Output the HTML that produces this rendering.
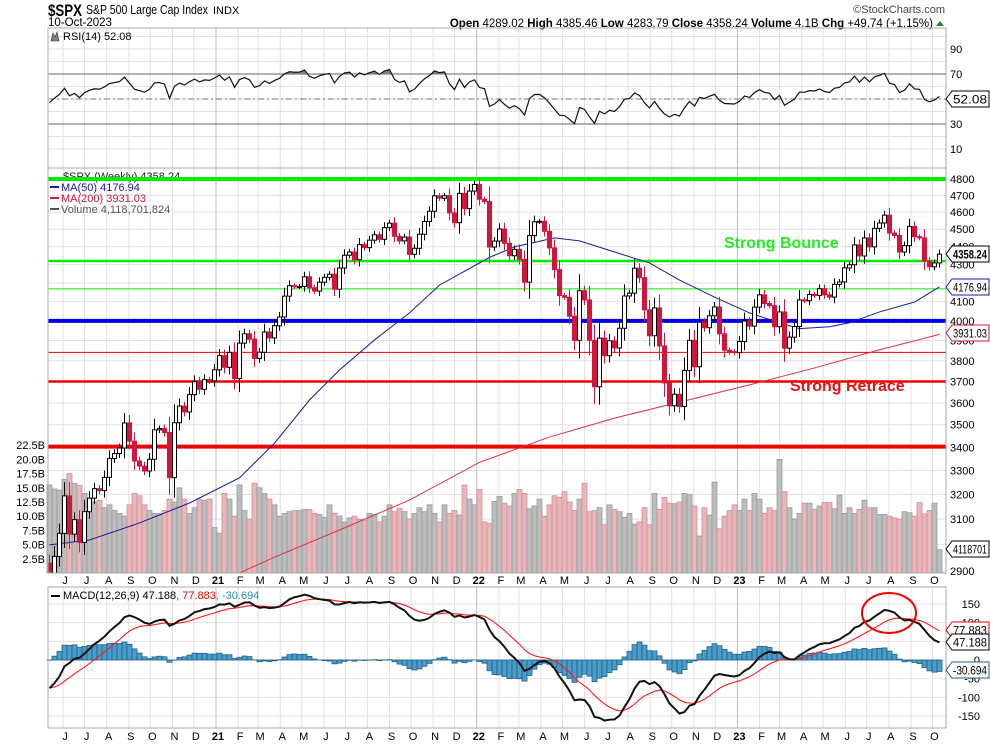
<!DOCTYPE html>
<html><head><meta charset="utf-8">
<style>
html,body{margin:0;padding:0;background:#fff;}
svg{display:block;font-family:"Liberation Sans",sans-serif;}
</style></head>
<body>
<svg id="chart" width="990" height="744" viewBox="0 0 990 744" xmlns="http://www.w3.org/2000/svg">
  <g>
    <text x="48" y="16" font-size="17" font-weight="bold" textLength="34" lengthAdjust="spacingAndGlyphs">$SPX</text>
    <text x="86" y="14" font-size="12.5" textLength="122" lengthAdjust="spacingAndGlyphs">S&amp;P 500 Large Cap Index</text>
    <text x="213" y="14" font-size="11">INDX</text>
    <text x="48" y="26" font-size="11.5">10-Oct-2023</text>
    <text x="945" y="13" font-size="11" fill="#444" text-anchor="end">©StockCharts.com</text>
    <text x="933" y="27" font-size="11.5" text-anchor="end"><tspan font-weight="bold">Open</tspan> 4289.02  <tspan font-weight="bold">High</tspan> 4385.46  <tspan font-weight="bold">Low</tspan> 4283.79  <tspan font-weight="bold">Close</tspan> 4358.24  <tspan font-weight="bold">Volume</tspan> 4.1B  <tspan font-weight="bold">Chg</tspan> +49.74 (+1.15%)</text>
    <path d="M936 26 L940 21 L944 26 Z" fill="#2e7d32"/>
  </g>
  <g id="grid"></g>
  <g id="rsi"></g>
  <g id="vol"></g>
  <g id="price"></g>
  <g id="macd"></g>
  <g id="axes"></g>
</svg>
<script>
// ---------- DATA ----------
const preCloses = [2990,3014,2977,3026,2932,2919,2889,2847,2926,2979,3007,2992,2962,2952,2970,2986,3023,3067,3093,3120,3110,3141,3146,3169,3221,3240,3235,3265,3330,3295,3226,3328,3380,3338,2954,2972,2711,2305,2541,2489,2790,2875,2837,2831,2930];
const closes = [2864,2955,3044,3194,3041,3098,3009,3130,3185,3224,3216,3271,3351,3373,3397,3508,3427,3341,3319,3298,3348,3477,3483,3465,3270,3509,3585,3558,3638,3699,3663,3709,3703,3756,
3825,3768,3841,3714,3887,3934,3907,3811,3842,3943,3913,3975,4020,4129,4185,4180,4181,4233,4174,4156,4204,4230,4247,4166,4281,4352,4370,4327,4412,4395,4437,4468,4442,4509,4535,4459,4433,4455,4357,4391,4471,4545,4605,4697,4683,4698,4595,4538,4712,4621,4726,4766,
4677,4663,4398,4432,4501,4419,4349,4385,4329,4204,4463,4543,4546,4488,4393,4272,4132,4123,4024,3901,4158,4109,3901,3675,3912,3825,3899,3863,3962,4130,4145,4280,4228,4057,3924,4067,3873,3693,3586,3640,3583,3753,3901,3771,3993,3965,4026,4072,3934,3852,3845,3840,
3895,3999,3973,4071,4136,4090,4079,3970,4046,3862,3917,3971,4109,4105,4138,4133,4169,4136,4124,4192,4205,4282,4299,4410,4348,4450,4399,4505,4536,4582,4478,4464,4370,4406,4516,4457,4450,4320,4288,4309,4358];
const volumesB = [15.5,14.8,14.6,16.5,17.5,15.8,15.4,14,13,12.5,12.8,
11.5,12,11,10.5,10,12,14,13.6,12,11,
10.5,10.5,11,13,12.5,15,13,10.5,11.5,13,12.8,13,
8,7,14,13,10,15.5,11,9.5,15.8,15,14,13,12,
10,10.5,10.8,11,11,11.2,11.2,10.5,10.3,9.8,12,10.5,10,
9,9.7,10,9.5,9.3,10.5,10.3,9,10,12,10.8,11.4,10.8,
9.5,10.5,11.5,10.8,12,10.5,9,12,10.5,11,10.2,15.5,13,
12,14.7,9,8.7,12.6,13.5,12.3,11.8,14,14.7,14,
11.3,11.8,13,10,12,13.6,13.3,14.3,12.5,11,13,15.8,10.8,11,11.5,
8.5,12,11.2,10.8,9.8,10.5,8.6,9,11.5,8.5,14,11.2,13.3,12.3,
12.2,12.5,14,13.8,11.8,6.5,11.5,10.2,16,7.8,10,11,12,11,
13,11,14,13,10.5,11.5,11,20,14.3,11.5,9.5,10.5,12.3,
12.3,11.2,11.8,12.4,12.4,11.3,13.7,10.5,11.5,10.5,11.2,12.8,11.5,
11.5,10.3,10.3,10,9.7,9.5,10.8,10.6,10,12.4,10.4,11,12.3,4.1];
const ma50Weeks = [0,8,18,28,38,45,52,58,65,72,78,88,93,101,106,113,120,126,133,140,146,150,156,160,166,173,178];
const ma50Values = [2999,3018,3085,3165,3269,3418,3613,3755,3903,4041,4188,4340,4399,4450,4433,4370,4309,4215,4124,4041,3990,3960,3970,3990,4046,4098,4178];
const ma200Weeks = [38,45,58,72,86,100,113,126,140,153,166,178];
const ma200Values = [2893,2952,3057,3177,3335,3445,3530,3603,3684,3765,3854,3931];
const priceTicks = [4800,4700,4600,4500,4400,4300,4200,4100,4000,3900,3800,3700,3600,3500,3400,3300,3200,3100,3000,2900];
const volTicks = [2.5,5,7.5,10,12.5,15,17.5,20,22.5];
const rsiTicks = [90,70,30,10];
const macdTicks = [150,100,50,0,-50,-100,-150];
const hLevels = [4800,4320,4168,4000,3841,3700,3403];
const hColors = ["#00ee00","#00ee00","#00ee00","#0000ee","#ee0000","#ee0000","#ee0000"];
const hWidths = [4,2.5,1,4,1,2.5,4];
const months = ["J","J","A","S","O","N","D","21","F","M","A","M","J","J","A","S","O","N","D","22","F","M","A","M","J","J","A","S","O","N","D","23","F","M","A","M","J","J","A","S","O"];

// ---------- SCALES ----------
const NS="http://www.w3.org/2000/svg";
const L=48,R=946;
const X0=49.5,DX=5.0;
const xOf=i=>X0+i*DX;
const yP=p=>179-778*Math.log(p/4800);
const yV=v=>573-v*5.68;
const yR=v=>99-(v-50)*1.25;
const yM=v=>660-v*0.3733;
const startDate=Date.UTC(2020,4,15);
const xDate=(y,m)=>X0+(Date.UTC(y,m,1)-startDate)/86400000/7*DX;
function mk(parent,tag,attrs,txt){const e=document.createElementNS(NS,tag);for(const k in attrs)e.setAttribute(k,attrs[k]);if(txt!==undefined)e.textContent=txt;parent.appendChild(e);return e;}
const G=id=>document.getElementById(id);
const gGrid=G('grid'),gRsi=G('rsi'),gVol=G('vol'),gPrice=G('price'),gMacd=G('macd'),gAx=G('axes');

// ---------- GRID ----------
for(let v=10;v<=100;v+=10){const l=mk(gGrid,'line',{x1:L,x2:R,y1:yR(v),y2:yR(v),stroke:'#e2e2e2'});

}
priceTicks.forEach(p=>{const l=mk(gGrid,'line',{x1:L,x2:R,y1:yP(p),y2:yP(p),stroke:'#e2e2e2'});

});
macdTicks.forEach(v=>{const l=mk(gGrid,'line',{x1:L,x2:R,y1:yM(v),y2:yM(v),stroke:'#e2e2e2'});

});
for(let k=0;k<months.length;k++){
  const yr=2020+Math.floor((5+k)/12), mo=(5+k)%12;
  const x=xDate(yr,mo)+1.5;
  const isYear=months[k].length>1;
  [[28,573],[587,728]].forEach(([a,b])=>{const l=mk(gGrid,'line',{x1:x,x2:x,y1:a,y2:b,stroke:isYear?'#bdbdbd':'#e0e0e0'});
  
  });
  [580,736].forEach(yy=>{const t=mk(gAx,'text',{x:x+2,y:yy+4,'font-size':11,'text-anchor':'middle','font-weight':isYear?'bold':'normal'},months[k]);
  
  });
}

// ---------- RSI ----------
const all=preCloses.concat(closes);
let ag=0,al=0;const rsiAll=[];
for(let i=1;i<all.length;i++){const d=all[i]-all[i-1];const g=Math.max(d,0),lo=Math.max(-d,0);
  if(i<=14){ag+=g/14;al+=lo/14;}else{ag=(ag*13+g)/14;al=(al*13+lo)/14;}
  rsiAll[i]=100-100/(1+ag/(al||1e-9));}
const rsi=closes.map((c,i)=>rsiAll[i+preCloses.length]);
[[70,'#666','none'],[30,'#666','none'],[50,'#777','6,3,2,3']].forEach(([v,c,da])=>{const l=mk(gRsi,'line',{x1:L,x2:R,y1:yR(v),y2:yR(v),stroke:c,'stroke-dasharray':da});

});
const rsiPts=rsi.map((v,i)=>xOf(i)+','+yR(v)).join(' ');
const defs=mk(G('chart'),'defs',{});
const cp=mk(defs,'clipPath',{id:'ob'});mk(cp,'rect',{x:L,y:28,width:R-L,height:yR(70)-28});
const cpP=mk(defs,'clipPath',{id:'pp'});mk(cpP,'rect',{x:L,y:168,width:R-L,height:405});
const ob=mk(gRsi,'polygon',{points:xOf(0)+','+yR(70)+' '+rsiPts+' '+xOf(rsi.length-1)+','+yR(70),fill:'#6e8e6e','clip-path':'url(#ob)'});


const rl=mk(gRsi,'polyline',{points:rsiPts,fill:'none',stroke:'#111','stroke-width':1.2});


mk(gRsi,'rect',{x:L,y:28,width:R-L,height:140,fill:'none',stroke:'#aaa'});
mk(gRsi,'path',{d:'M51 41 L53 33 L55 37 L57 32 L59 41 Z',fill:'#6e8e6e',stroke:'#333','stroke-width':0.6});
const rt=mk(gRsi,'text',{x:63,y:40,'font-size':11},'RSI(14) 52.08');


rsiTicks.forEach(v=>{const t=mk(gAx,'text',{x:950,y:yR(v)+4,'font-size':11},String(v));

});

// ---------- VOLUME ----------
volumesB.forEach((v,i)=>{const down=i>0&&closes[i]<closes[i-1];
  const b=mk(gVol,'rect',{x:xOf(i)-2.5,y:yV(v),width:5,height:573-yV(v),fill:down?'#e8b7bb':'#bdbdbd',stroke:down?'#d98a92':'#9a9a9a','stroke-width':0.8});
  
  });
volTicks.forEach(v=>{const t=mk(gAx,'text',{x:45,y:yV(v)+4,'font-size':11,'text-anchor':'end'},v.toFixed(1)+'B');

});

// ---------- PRICE ----------
const lg0=mk(gPrice,'text',{x:63,y:180,'font-size':11,fill:'#222'},'$SPX (Weekly) 4358.24');


hLevels.forEach((p,k)=>{const l=mk(gPrice,'line',{x1:L,x2:R,y1:yP(p),y2:yP(p),stroke:hColors[k],'stroke-width':hWidths[k]});

});
const ma2=mk(gPrice,'polyline',{points:ma200Weeks.map((w,k)=>xOf(w)+','+yP(ma200Values[k])).join(' '),fill:'none',stroke:'#e0304a','stroke-width':1});


const ma5=mk(gPrice,'polyline',{points:ma50Weeks.map((w,k)=>xOf(w)+','+yP(ma50Values[k])).join(' '),fill:'none',stroke:'#1a1aa0','stroke-width':1});


const gc=mk(gPrice,'g',{'clip-path':'url(#pp)'});
closes.forEach((c,i)=>{const o=i===0?preCloses[preCloses.length-1]:closes[i-1];
  const up=c>=o, col=up?'#000':'#d4143c';
  const hi=Math.max(o,c)+0.3*Math.abs(c-o)+12, lo=Math.min(o,c)-0.3*Math.abs(c-o)-12;
  const x=xOf(i);
  const w=mk(gc,'line',{x1:x,x2:x,y1:yP(hi),y2:yP(lo),stroke:col,'stroke-width':1});
  
  
  const yt=yP(Math.max(o,c)),yb=yP(Math.min(o,c));
  const b=mk(gc,'rect',{x:x-2,y:yt,width:4,height:Math.max(1,yb-yt),fill:up?'#fff':'#d4143c',stroke:col,'stroke-width':1});
  
  });
[['MA(50) 4176.94','#1a1aa0',191],['MA(200) 3931.03','#d4143c',202],['Volume 4,118,701,824','#555',213]].forEach(([t,c,y])=>{
  const e=mk(gPrice,'text',{x:61,y:y,'font-size':11,fill:c},t);
  
  
  mk(gPrice,'rect',{x:50,y:y-5,width:9,height:2,fill:c});});
const sb=mk(gPrice,'text',{x:724,y:248,'font-size':16,'font-weight':'bold',fill:'#22ee22'},'Strong Bounce');


const sr=mk(gPrice,'text',{x:790,y:391,'font-size':16,'font-weight':'bold',fill:'#ee1111'},'Strong Retrace');


mk(gPrice,'rect',{x:L,y:168,width:R-L,height:405,fill:'none',stroke:'#aaa'});
priceTicks.forEach(p=>{const t=mk(gAx,'text',{x:950,y:yP(p)+4,'font-size':11},String(p));

});

// ---------- MACD ----------
function ema(a,n){const k=2/(n+1);const o=[a[0]];for(let i=1;i<a.length;i++)o.push(a[i]*k+o[i-1]*(1-k));return o;}
const e12=ema(all,12),e26=ema(all,26);
const macdAll=all.map((v,i)=>e12[i]-e26[i]);const sigAll=ema(macdAll,9);
const off=preCloses.length;
const macd=closes.map((c,i)=>macdAll[i+off]),sig=closes.map((c,i)=>sigAll[i+off]);
macd.forEach((m,i)=>{const h=m-sig[i];const y0=yM(0),y1=yM(h);
  const b=mk(gMacd,'rect',{x:xOf(i)-2.5,y:Math.min(y0,y1),width:5,height:Math.abs(y1-y0),fill:'#4b9dc9',stroke:'#1f5f88','stroke-width':0.8});
  
  });
const sl=mk(gMacd,'polyline',{points:sig.map((v,i)=>xOf(i)+','+yM(v)).join(' '),fill:'none',stroke:'#ff1a1a','stroke-width':1.1});


const ml=mk(gMacd,'polyline',{points:macd.map((v,i)=>xOf(i)+','+yM(v)).join(' '),fill:'none',stroke:'#111','stroke-width':2});


const circ=mk(gMacd,'ellipse',{cx:889,cy:613,rx:27,ry:20,fill:'none',stroke:'#e00','stroke-width':2});


mk(gMacd,'rect',{x:L,y:587,width:R-L,height:141,fill:'none',stroke:'#aaa'});
const mt=mk(gMacd,'text',{x:63,y:599,'font-size':11});


mt.innerHTML='<tspan>MACD(12,26,9) 47.188</tspan><tspan fill="#e00">, 77.883</tspan><tspan fill="#2a8fc0">, -30.694</tspan>';
mk(gMacd,'rect',{x:51,y:595,width:9,height:2,fill:'#000'});
macdTicks.forEach(v=>{const t=mk(gAx,'text',{x:980,y:yM(v)+4,'font-size':11,'text-anchor':'end'},String(v));

});

// ---------- VALUE TAGS ----------
function tag(y,txt,col,bold,name){const x=946;const w=989-x-6;
  const p=mk(gAx,'path',{d:`M${x} ${y} L${x+6} ${y-8} L${x+6+w} ${y-8} L${x+6+w} ${y+8} L${x+6} ${y+8} Z`,fill:'#fff',stroke:col,'stroke-width':1});
  
  
  const t=mk(gAx,'text',{x:x+7,y:y+4.5,'font-size':bold?12:11.5,'font-weight':bold?'bold':'normal',textLength:w-3,lengthAdjust:'spacingAndGlyphs'},txt);
  
  }
tag(99,'52.08','#000',false,'rsi-value-tag');
tag(254,'4358.24','#000',true,'close-value-tag');
tag(287,'4176.94','#1a1aa0',false,'ma50-value-tag');
tag(333,'3931.03','#d4143c',false,'ma200-value-tag');
tag(549,'4118701','#000',false,'volume-value-tag');
tag(630,'77.883','#e00',false,'signal-value-tag');
tag(642,'47.188','#000',false,'macd-value-tag');
tag(670,'-30.694','#1f5f88',false,'histogram-value-tag');
</script>
</body></html>
